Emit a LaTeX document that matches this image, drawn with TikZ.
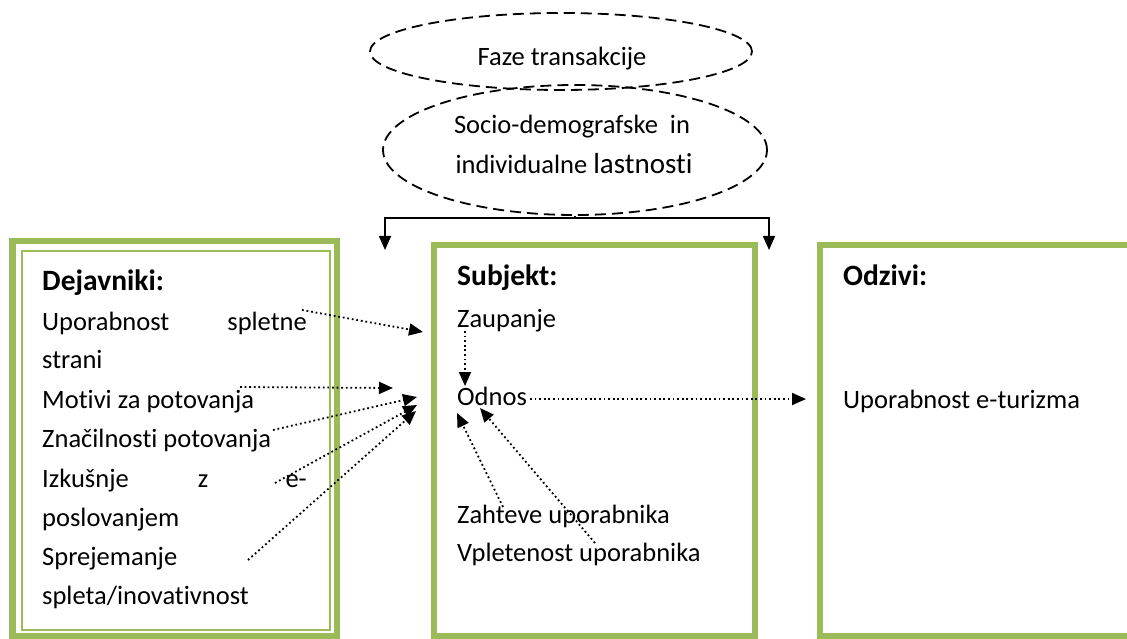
\documentclass[tikz,border=0pt]{standalone}
\usepackage{fontspec}
\setmainfont[Ligatures={NoCommon}]{Carlito}
\usetikzlibrary{shapes.geometric,arrows.meta}
\definecolor{olive}{HTML}{9BBB59}
\tikzset{
  x=1pt, y=-1pt,
  txt/.style={inner sep=0pt, anchor=base west, font=\fontsize{26.5}{32}\selectfont},
  head/.style={txt, font=\fontsize{29.5}{35}\selectfont\bfseries},
  frame/.style={draw=olive, line width=6.5pt},
  thinframe/.style={draw=olive, line width=2pt},
  oval/.style={ellipse, draw, line width=1.8pt, dash pattern=on 11pt off 6pt, inner sep=0pt},
  dotarrow/.style={line width=1.8pt, dash pattern=on 1.8pt off 2.8pt,
    -{Triangle[length=14pt,width=12pt]}},
  solidarrow/.style={line width=1.6pt, -{Triangle[length=14pt,width=12pt]}},
}
\begin{document}
\begin{tikzpicture}
\useasboundingbox (0,0) rectangle (1127,639);

% frames of the three columns
\draw[frame] (12.5,241) rectangle (337,636);
\draw[thinframe] (22,251) rectangle (330,630);
\draw[frame] (434,245) rectangle (755,636.5);
\draw[frame] (820,245) rectangle (1140,636.5);

% the two dashed ovals on top
\node[oval, minimum width=382pt, minimum height=77pt] (faze) at (561,51.5) {};
\node[txt, anchor=base] (fazet) at (562,66) {Faze transakcije};
\node[oval, minimum width=384pt, minimum height=130pt] (socio) at (575,150) {};
\node[txt, anchor=base] (socio1) at (572,134) {Socio-demografske\ \ in};
\node[txt, anchor=base] (socio2) at (574,174) {individualne \fontsize{29}{34}\selectfont lastnosti};

% split connector from the lower oval
\coordinate (leftdrop) at (385,250);
\coordinate (rightdrop) at (769,250);
\draw[solidarrow] (socio.south) -- ++(0,2) -| (leftdrop);
\draw[solidarrow] (socio.south) -- ++(0,2) -| (rightdrop);

% left column
\node[head] (dej) at (42,290) {Dejavniki:};
\node[txt] (upo) at (42,330) {Uporabnost};
\node[txt, anchor=base east] (spl) at (307,330) {spletne};
\node[txt] (str) at (42,368) {strani};
\node[txt] (mot) at (42,408) {Motivi za potovanja};
\node[txt] (zna) at (42,447) {Značilnosti potovanja};
\node[txt] (izk) at (42,487) {Izkušnje};
\node[txt, anchor=base] (zz) at (203,487) {z};
\node[txt, anchor=base east] (ee) at (307,487) {e-};
\node[txt] (pos) at (42,526) {poslovanjem};
\node[txt] (spr) at (42,565) {Sprejemanje};
\node[txt] (spt) at (42,604) {spleta/inovativnost};

% middle column
\node[head] (sub) at (457,285) {Subjekt:};
\node[txt] (zau) at (457,327) {Zaupanje};
\node[txt] (odn) at (457,405) {Odnos};
\node[txt] (zah) at (457,523) {Zahteve uporabnika};
\node[txt] (vpl) at (457,561) {Vpletenost uporabnika};

% right column
\node[head] (odz) at (843,285) {Odzivi:};
\node[txt] (ure) at (843,408) {Uporabnost e-turizma};

% loose ends of the dotted arrows
\coordinate (s1) at (302,310);
\coordinate (s2) at (240,387);
\coordinate (s3) at (273,430);
\coordinate (s4) at (275,483);
\coordinate (s5) at (248,560);
\coordinate (t1) at (423,332);
\coordinate (t2) at (393,388);
\coordinate (t3) at (417,397);
\coordinate (t4) at (417,405);
\coordinate (t5) at (416,411);
\coordinate (zaus) at (465,331);
\coordinate (odnt) at (465,386);
\coordinate (odns) at (530,399);
\coordinate (toresp) at (806,399);
\coordinate (zahs) at (503,507);
\coordinate (zaht) at (457,413);
\coordinate (vpls) at (595,543);
\coordinate (vplt) at (480,408);

% dotted influences
\draw[dotarrow] (s1) -- (t1);
\draw[dotarrow] (s2) -- (t2);
\draw[dotarrow] (s3) -- (t3);
\draw[dotarrow] (s4) -- (t4);
\draw[dotarrow] (s5) -- (t5);
\draw[dotarrow] (zaus) -- (odnt);
\draw[dotarrow] (odns) -- (toresp);
\draw[dotarrow] (zahs) -- (zaht);
\draw[dotarrow] (vpls) -- (vplt);
\end{tikzpicture}
\end{document}
